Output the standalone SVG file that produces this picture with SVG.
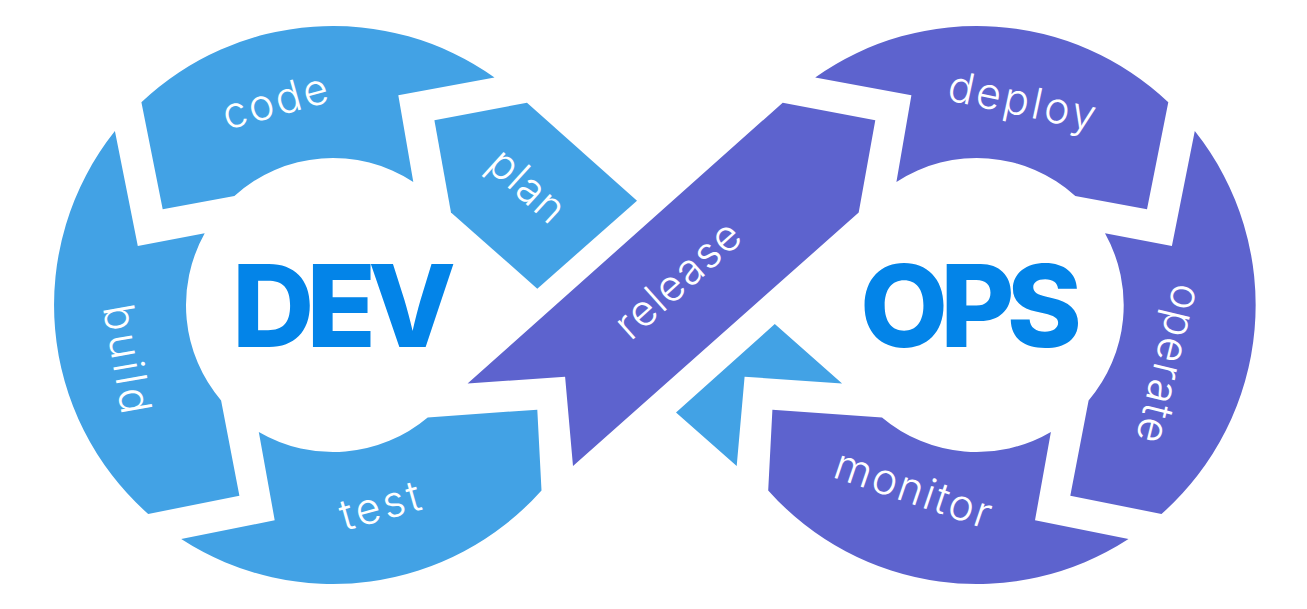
<svg xmlns="http://www.w3.org/2000/svg" width="1307" height="609" viewBox="0 0 1307 609">
<style>
.dev{fill:#42A2E5}
.ops{fill:#5D63CE}
.lbl{fill:#fff;font-family:Inter,"Open Sans","Liberation Sans",sans-serif;font-size:43px;font-weight:300;text-anchor:middle}
.big{fill:#0384E8;font-family:Inter,"Liberation Sans",sans-serif;font-weight:800;font-size:114px;text-anchor:middle}
</style>
<rect width="1307" height="609" fill="#fff"/>
<g id="code">
<path class="dev" d="M141.4,102.2 L162.7,209.3 L234.4,195.9 A147,147 0 0 1 413.3,181.9 L398.3,95.3 L494.5,77.4 A279,279 0 0 0 141.4,102.2 Z"/>
<text class="lbl" transform="translate(279,115.6) rotate(-15.4)" textLength="108" lengthAdjust="spacing">code</text>
</g>
<g id="plan">
<polygon class="dev" points="434.4,120.2 527,102.7 637,200.8 537.3,288.7 451,212.5"/>
<text class="lbl" transform="translate(517.5,196.5) rotate(42.3)" textLength="88" lengthAdjust="spacing">plan</text>
</g>
<g id="build">
<path class="dev" d="M114.9,131.1 L137.8,245.9 L204.7,233.3 A147,147 0 0 0 221.1,400.4 L239.4,495.7 L148.2,514 A279,279 0 0 1 114.9,131.1 Z"/>
<text class="lbl" transform="translate(112.4,361.5) rotate(80)" textLength="110" lengthAdjust="spacing">build</text>
</g>
<g id="test">
<path class="dev" d="M258.8,431.9 L274.7,520.2 L181.2,539.1 A279,279 0 0 0 541.5,490.4 L537.3,409.7 L427.7,417.4 A147,147 0 0 1 258.8,431.9 Z"/>
<text class="lbl" transform="translate(384,520) rotate(-15.5)" textLength="82" lengthAdjust="spacing">test</text>
</g>
<g id="return">
<polygon class="dev" points="774.8,324.1 842.1,383.5 744.6,376.7 736.7,466.1 676,412.5"/>
</g>
<g id="release">
<polygon class="ops" points="467.6,383.5 782.7,102.7 875.3,120.2 858.7,212.5 573,466.1 565.1,376.7"/>
<text class="lbl" transform="translate(687.6,290.7) rotate(-41.8)" textLength="153" lengthAdjust="spacing">release</text>
</g>
<g id="deploy">
<path class="ops" d="M1168.3,102.2 L1147,209.3 L1075.3,195.9 A147,147 0 0 0 896.4,181.9 L911.4,95.3 L815.2,77.4 A279,279 0 0 1 1168.3,102.2 Z"/>
<text class="lbl" transform="translate(1019,115.3) rotate(12)" textLength="150" lengthAdjust="spacing">deploy</text>
</g>
<g id="operate">
<path class="ops" d="M1194.8,131.1 L1171.9,245.9 L1105,233.3 A147,147 0 0 1 1088.6,400.4 L1070.3,495.7 L1161.5,514 A279,279 0 0 0 1194.8,131.1 Z"/>
<text class="lbl" transform="translate(1155,360.5) rotate(103.8)" textLength="162" lengthAdjust="spacing">operate</text>
</g>
<g id="monitor">
<path class="ops" d="M1050.9,431.9 L1035,520.2 L1128.5,539.1 A279,279 0 0 1 768.2,490.4 L772.4,409.7 L882,417.4 A147,147 0 0 0 1050.9,431.9 Z"/>
<text class="lbl" transform="translate(908.5,503) rotate(18.7)" textLength="163" lengthAdjust="spacing">monitor</text>
</g>
<g id="dev">
<text class="big" x="344" y="347" textLength="224" lengthAdjust="spacing">DEV</text>
</g>
<g id="ops">
<text class="big" x="971" y="347" textLength="222" lengthAdjust="spacing">OPS</text>
</g>
</svg>
